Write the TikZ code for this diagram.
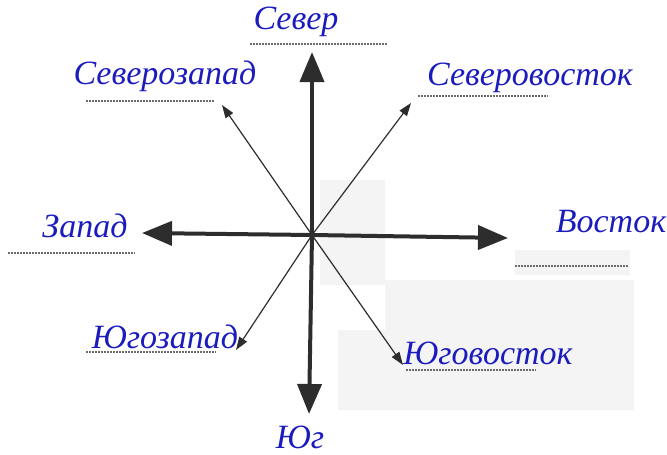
\documentclass[tikz,border=0pt]{standalone}
\usepackage{fontspec}
\setmainfont{Liberation Serif}
\usetikzlibrary{arrows.meta}
\definecolor{ink}{RGB}{28,28,190}
\definecolor{arrowgray}{RGB}{45,45,45}
\definecolor{scan}{RGB}{244,244,244}
\tikzset{
  lbl/.style={font=\itshape\fontsize{34}{34}\selectfont, text=ink, inner sep=0pt},
  mainarrow/.style={draw=arrowgray, line width=4pt, -{Triangle[length=30pt,width=24pt]}},
  diagarrow/.style={draw=arrowgray, line width=1.2pt, -{Triangle[length=13pt,width=9pt]}},
  uline/.style={draw=gray!85!black, line width=2.4pt, dash pattern=on 1.6pt off 1.4pt}
}
\begin{document}
\begin{tikzpicture}[x=1pt,y=-1pt]
\useasboundingbox (0,0) rectangle (667,455);
% scanned grey background patches
\fill[scan] (320,180) rectangle (385,285);
\fill[scan] (385,280) rectangle (634,410);
\fill[scan] (338,330) rectangle (385,410);
\fill[scan] (515,250) rectangle (630,275);
% centre and tips
\coordinate (c) at (312,235);
\coordinate (n) at (312,52);
\coordinate (s) at (309,414);
\coordinate (w) at (142,233);
\coordinate (e) at (508,238);
\coordinate (nw) at (222,105);
\coordinate (ne) at (411,103);
\coordinate (sw) at (236,350);
\coordinate (se) at (403,365);
% labels
\node[lbl] (north) at (296,22) {Север};
\node[lbl] (northwest) at (165,76) {Северозапад};
\node[lbl] (northeast) at (530,78) {Северовосток};
\node[lbl] (west) at (85,226) {Запад};
\node[lbl] (east) at (611,222) {Восток};
\node[lbl] (southwest) at (165,337) {Югозапад};
\node[lbl] (southeast) at (488,353) {Юговосток};
\node[lbl] (south) at (300,437) {Юг};
% dotted underlines
\draw[uline] (250,44) -- (387,44);
\draw[uline] (86,101) -- (214,101);
\draw[uline] (418,96) -- (548,96);
\draw[uline] (8,253) -- (135,253);
\draw[uline] (515,266) -- (628,266);
\draw[uline] (86,352) -- (216,352);
\draw[uline] (406,370) -- (536,370);
% arrows
\draw[diagarrow] (c) -- (nw);
\draw[diagarrow] (c) -- (ne);
\draw[diagarrow] (c) -- (sw);
\draw[diagarrow] (c) -- (se);
\draw[mainarrow] (c) -- (n);
\draw[mainarrow] (c) -- (s);
\draw[mainarrow] (c) -- (w);
\draw[mainarrow] (c) -- (e);
\end{tikzpicture}
\end{document}
